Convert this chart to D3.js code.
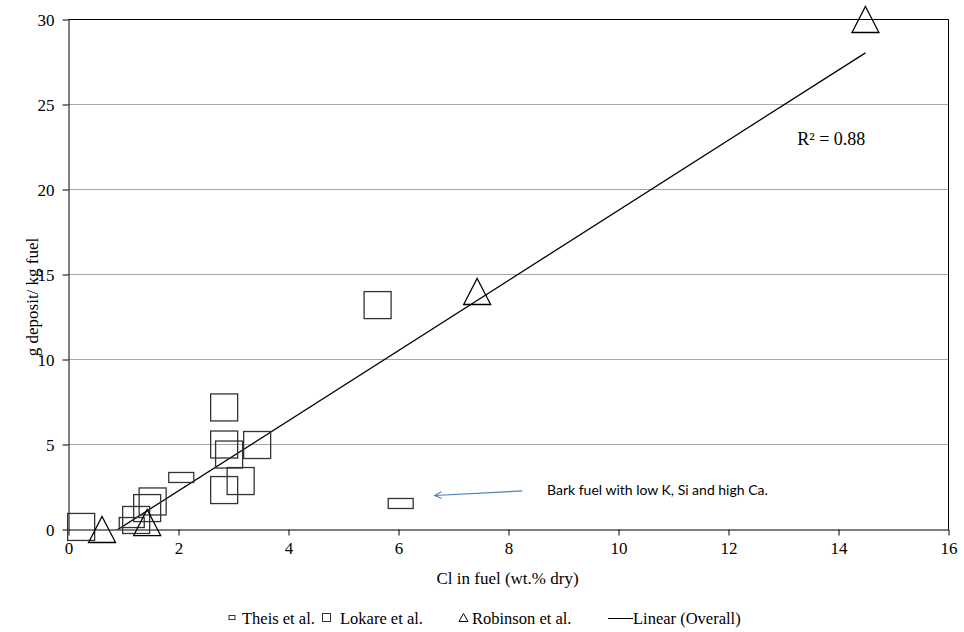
<!DOCTYPE html>
<html>
<head>
<meta charset="utf-8">
<script src="https://cdn.jsdelivr.net/npm/d3@7"></script>
<style>
  body { margin: 0; background: #fff; }
  text { font-family: "Liberation Serif", "Times New Roman", serif; fill: #000; }
  text.note { font-family: "Lato", "Open Sans", sans-serif; }
</style>
</head>
<body>
<div id="chart"></div>
<script>
// Data
var theisX = [1.15, 2.05, 6.04];
var theisY = [0.41, 3.06, 1.53];

var lokareX = [0.23, 1.23, 1.43, 1.53, 2.83, 2.83, 2.92, 3.43, 3.13, 2.83, 5.62];
var lokareY = [0.15, 0.56, 1.26, 1.65, 7.18, 5.0, 4.41, 4.97, 2.85, 2.32, 13.2];

var robinsonX = [0.61, 1.43, 7.43, 14.49];
var robinsonY = [0.0, 0.41, 14.0, 30.0];

var xTicks = [0, 2, 4, 6, 8, 10, 12, 14, 16];
var yTicks = [0, 5, 10, 15, 20, 25, 30];

var legendLabels = ["Theis et al.", "Lokare et al.", "Robinson et al.", "Linear (Overall)"];
var r2Label = "R² = 0.88";
var noteLabel = "Bark fuel with low K, Si and high Ca.";

// SVG area
var svgWidth = 964;
var svgHeight = 632;

var margin = { top: 19.5, right: 15.5, bottom: 102.5, left: 68.5 };
var chartWidth = svgWidth - margin.left - margin.right;
var chartHeight = svgHeight - margin.top - margin.bottom;

var serif = "'Liberation Serif', 'Times New Roman', serif";

var svg = d3.select("#chart")
  .append("svg")
  .attr("width", svgWidth)
  .attr("height", svgHeight);

var chartGroup = svg.append("g")
  .attr("transform", `translate(${margin.left}, ${margin.top})`);

var xScale = d3.scaleLinear().domain([0, 16]).range([0, chartWidth]);
var yScale = d3.scaleLinear().domain([0, 30]).range([chartHeight, 0]);

// gridlines
chartGroup.append("g")
  .selectAll("line")
  .data(yTicks.filter(d => d > 0))
  .enter()
  .append("line")
  .attr("x1", 0)
  .attr("x2", chartWidth)
  .attr("y1", d => yScale(d))
  .attr("y2", d => yScale(d))
  .attr("stroke", "#a6a6a6")
  .attr("stroke-width", 1);

// plot border (top and right)
chartGroup.append("path")
  .attr("d", `M0,0H${chartWidth}V${chartHeight}`)
  .attr("fill", "none")
  .attr("stroke", "#000")
  .attr("stroke-width", 1);

// axes
var bottomAxis = d3.axisBottom(xScale).tickValues(xTicks).tickSize(6).tickSizeOuter(0).tickPadding(6);
var leftAxis = d3.axisLeft(yScale).tickValues(yTicks).tickSize(6).tickSizeOuter(0).tickPadding(8);

var xAxisG = chartGroup.append("g")
  .attr("transform", `translate(0, ${chartHeight})`)
  .call(bottomAxis);
var yAxisG = chartGroup.append("g").call(leftAxis);

[xAxisG, yAxisG].forEach(function(g) {
  g.attr("font-family", null).attr("font-size", null);
  g.selectAll("path, line").attr("stroke", "#000");
  g.selectAll("text")
    .style("font-family", serif)
    .style("font-size", "17px")
    .attr("fill", "#000");
});
yAxisG.selectAll("text").attr("dy", "0.34em");

// trendline from least squares over all points
var allX = theisX.concat(lokareX, robinsonX);
var allY = theisY.concat(lokareY, robinsonY);
var mx = d3.mean(allX), my = d3.mean(allY);
var sxy = d3.sum(allX, (x, i) => (x - mx) * (allY[i] - my));
var sxx = d3.sum(allX, x => (x - mx) * (x - mx));
var slope = sxy / sxx;
var intercept = my - slope * mx;
var xMin = d3.min(allX), xMax = d3.max(allX);

chartGroup.append("clipPath")
  .attr("id", "plotClip")
  .append("rect")
  .attr("x", 0).attr("y", 0)
  .attr("width", chartWidth).attr("height", chartHeight);

chartGroup.append("line")
  .attr("clip-path", "url(#plotClip)")
  .attr("x1", xScale(xMin))
  .attr("y1", yScale(slope * xMin + intercept))
  .attr("x2", xScale(xMax))
  .attr("y2", yScale(slope * xMax + intercept))
  .attr("stroke", "#000")
  .attr("stroke-width", 1.3);

// markers
var sq = 27;
chartGroup.append("g")
  .selectAll("rect")
  .data(lokareX)
  .enter()
  .append("rect")
  .attr("x", (d, i) => xScale(d) - sq / 2)
  .attr("y", (d, i) => yScale(lokareY[i]) - sq / 2)
  .attr("width", sq)
  .attr("height", sq)
  .attr("fill", "none")
  .attr("stroke", "#333")
  .attr("stroke-width", 1.3);

chartGroup.append("g")
  .selectAll("rect")
  .data(theisX)
  .enter()
  .append("rect")
  .attr("x", d => xScale(d) - 12.5)
  .attr("y", (d, i) => yScale(theisY[i]) - 5)
  .attr("width", 25)
  .attr("height", 10)
  .attr("fill", "none")
  .attr("stroke", "#333")
  .attr("stroke-width", 1.3);

var triangle = function(cx, cy, w, h) {
  return `M${cx},${cy - h / 2}L${cx + w / 2},${cy + h / 2}L${cx - w / 2},${cy + h / 2}Z`;
};

chartGroup.append("g")
  .selectAll("path")
  .data(robinsonX)
  .enter()
  .append("path")
  .attr("d", (d, i) => triangle(xScale(d), yScale(robinsonY[i]), 27, 26))
  .attr("fill", "none")
  .attr("stroke", "#000")
  .attr("stroke-width", 1.3);

// R squared label
chartGroup.append("text")
  .attr("x", xScale(13.25))
  .attr("y", yScale(22.6))
  .attr("font-size", "18px")
  .text(r2Label);

// annotation
svg.append("defs").append("marker")
  .attr("id", "arrowHead")
  .attr("viewBox", "0 0 10 10")
  .attr("refX", 9).attr("refY", 5)
  .attr("markerWidth", 7).attr("markerHeight", 7)
  .attr("orient", "auto")
  .append("path")
  .attr("d", "M1,1L9,5L1,9")
  .attr("fill", "none")
  .attr("stroke", "#4a7ebb")
  .attr("stroke-width", 1.2);

chartGroup.append("line")
  .attr("x1", xScale(8.25)).attr("y1", yScale(2.27))
  .attr("x2", xScale(6.66)).attr("y2", yScale(2.0))
  .attr("stroke", "#4a7ebb")
  .attr("stroke-width", 1.2)
  .attr("marker-end", "url(#arrowHead)");

chartGroup.append("text")
  .attr("class", "note")
  .attr("x", xScale(8.7))
  .attr("y", yScale(2.32))
  .attr("dy", "0.35em")
  .attr("font-size", "14px")
  .text(noteLabel);

// axis titles
chartGroup.append("text")
  .attr("transform", "rotate(-90)")
  .attr("x", -(297 - margin.top))
  .attr("y", -31)
  .attr("text-anchor", "middle")
  .attr("font-size", "17px")
  .text("g deposit/ kg fuel");

chartGroup.append("text")
  .attr("x", chartWidth / 2 - 1)
  .attr("y", chartHeight + 54)
  .attr("text-anchor", "middle")
  .attr("font-size", "17px")
  .text("Cl in fuel (wt.% dry)");

// legend
var legendY = 618;
var legendStarts = [229, 322, 459, 608];
var legend = svg.append("g");

legend.append("rect")
  .attr("x", legendStarts[0]).attr("y", legendY - 2.5)
  .attr("width", 6).attr("height", 4)
  .attr("fill", "none").attr("stroke", "#333");
legend.append("rect")
  .attr("x", legendStarts[1] + 0.5).attr("y", legendY - 4.5)
  .attr("width", 8).attr("height", 8)
  .attr("fill", "none").attr("stroke", "#333");
legend.append("path")
  .attr("d", triangle(legendStarts[2] + 4.5, legendY - 0.5, 9, 8))
  .attr("fill", "none").attr("stroke", "#000");
legend.append("line")
  .attr("x1", legendStarts[3]).attr("x2", legendStarts[3] + 25)
  .attr("y1", legendY + 0.5).attr("y2", legendY + 0.5)
  .attr("stroke", "#000");

var legendTextX = [242, 340, 472, 633];
legend.selectAll("text")
  .data(legendLabels)
  .enter()
  .append("text")
  .attr("x", (d, i) => legendTextX[i])
  .attr("y", legendY + 6)
  .attr("font-size", "16.5px")
  .text(d => d);
</script>
</body>
</html>
